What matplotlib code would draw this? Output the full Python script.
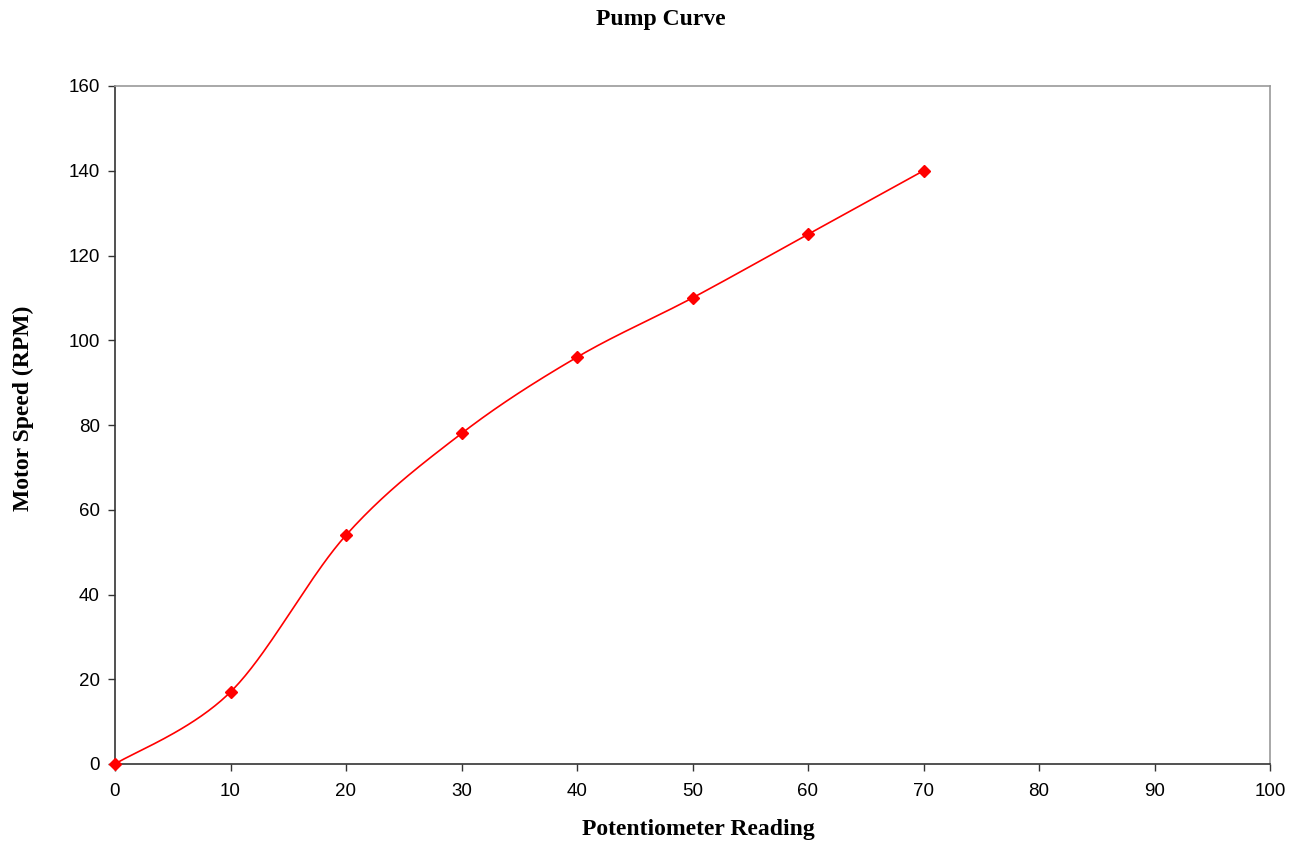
import numpy as np
import matplotlib
matplotlib.use("Agg")
import matplotlib.pyplot as plt

pot_reading = [0, 10, 20, 30, 40, 50, 60, 70]
motor_speed = [0, 17, 54, 78, 96, 110, 125, 140]

xlim = (0, 100)
ylim = (0, 160)


def smooth_curve(x, y, sx, sy, n=40):
    # Catmull-Rom (Excel-like smoothed line) in normalized display space
    px = np.asarray(x, float) / sx
    py = np.asarray(y, float) / sy
    P = np.column_stack([px, py])
    P = np.vstack([P[0], P, P[-1]])
    out = []
    t = np.linspace(0, 1, n)
    for i in range(1, len(P) - 2):
        p0, p1, p2, p3 = P[i - 1], P[i], P[i + 1], P[i + 2]
        c1 = p1 + (p2 - p0) / 6.0
        c2 = p2 - (p3 - p1) / 6.0
        b = ((1 - t) ** 3)[:, None] * p1 + (3 * (1 - t) ** 2 * t)[:, None] * c1 \
            + (3 * (1 - t) * t ** 2)[:, None] * c2 + (t ** 3)[:, None] * p2
        out.append(b if i == 1 else b[1:])
    out = np.vstack(out)
    return out[:, 0] * sx, out[:, 1] * sy


fig = plt.figure(figsize=(13.03, 8.42), dpi=100)
ax = fig.add_axes([115 / 1303, 1 - 764 / 842, (1270 - 115) / 1303, (764 - 86) / 842])

w_px, h_px = 1270 - 115, 764 - 86
cx, cy = smooth_curve(pot_reading, motor_speed, (xlim[1] - xlim[0]) / w_px, (ylim[1] - ylim[0]) / h_px)
ax.plot(cx, cy, color="#ff0000", lw=1.2, clip_on=False, zorder=3)
ax.plot(pot_reading, motor_speed, linestyle="none", marker="D", markersize=6.5,
        color="#ff0000", clip_on=False, zorder=4)

ax.set_xlim(*xlim)
ax.set_ylim(*ylim)
ax.set_xticks(np.arange(0, 101, 10))
ax.set_yticks(np.arange(0, 161, 20))

tick_font = {"family": "Liberation Sans", "size": 13.5}
ax.set_xticklabels([str(v) for v in range(0, 101, 10)], fontdict=tick_font)
ax.set_yticklabels([str(v) for v in range(0, 161, 20)], fontdict=tick_font)
ax.tick_params(direction="out", length=5, width=1, color="#333333", pad=6)
ax.tick_params(axis="x", pad=9)
ax.tick_params(top=False, right=False)

for s in ["left", "bottom"]:
    ax.spines[s].set_color("#333333")
    ax.spines[s].set_linewidth(1.2)
for s in ["top", "right"]:
    ax.spines[s].set_color("#999999")
    ax.spines[s].set_linewidth(1.2)

lab_font = dict(family="Liberation Serif", size=17, weight="bold")
fig.text(698 / 1303, 1 - 829 / 842, "Potentiometer Reading", ha="center", va="center", **lab_font)
fig.text(23 / 1303, 1 - 408 / 842, "Motor Speed (RPM)", ha="center", va="center",
         rotation=90, **lab_font)
fig.text(661 / 1303, 1 - 20 / 842, "Pump Curve", ha="center", va="center", **lab_font)

fig.savefig("out.png", dpi=100, facecolor="white")
